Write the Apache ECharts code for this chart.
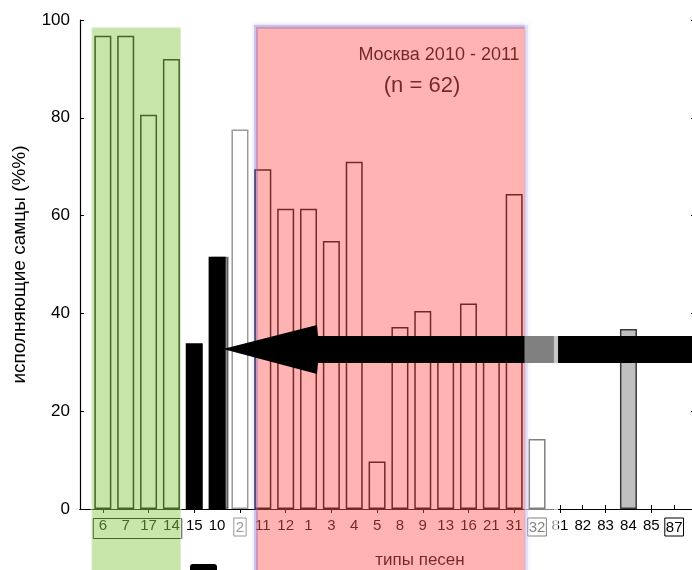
<!DOCTYPE html>
<html>
<head>
<meta charset="utf-8">
<script src="https://cdn.jsdelivr.net/npm/echarts@6/dist/echarts.min.js"></script>
<style>
  html, body { margin: 0; padding: 0; background: #fff; }
  #chart { width: 692px; height: 570px; }
</style>
</head>
<body>
<div id="chart"></div>
<script>
// Song types along the x axis and the share of males singing each type (%)
const categories = ['6', '7', '17', '14', '15', '10', '2', '11', '12', '1', '3', '4', '5',
                    '8', '9', '13', '16', '21', '31', '32', '81', '82', '83', '84', '85', '87'];
const percentMales = [96.8, 96.8, 80.6, 92.0, 33.9, 51.6, 77.6, 69.5, 61.4, 61.4, 54.8, 71.0, 9.7,
                      37.2, 40.5, 33.0, 42.0, 33.0, 64.4, 14.3, 0, 0, 0, 36.8, 0, 0];
const yTicks = [0, 20, 40, 60, 80, 100];
const yAxisTitle = 'исполняющие самцы (%%)';
const xAxisTitle = 'типы песен';
const panelTitle = 'Москва 2010 - 2011';
const panelCount = '(n = 62)';

const FONT = "'Liberation Sans', Arial, sans-serif";

// Bar appearance by song type
const solidBlack = new Set(['15', '10']);
const solidGrey = new Set(['84']);
const faintOutline = new Set(['2']);

function barStyle(name, v) {
  const base = { color: '#fff', borderColor: '#000', borderWidth: 1.5 };
  if (solidBlack.has(name)) Object.assign(base, { color: '#000' });
  if (solidGrey.has(name)) Object.assign(base, { color: '#c0c0c0', borderColor: '#3a3a3a' });
  if (faintOutline.has(name)) Object.assign(base, { borderColor: '#9a9a9a' });
  if (name === '10') Object.assign(base, { shadowColor: 'rgba(0,0,0,0.45)', shadowOffsetX: 3, shadowBlur: 0 });
  if (v === 0) Object.assign(base, { borderWidth: 0, color: 'rgba(0,0,0,0)' });
  return base;
}

const barData = percentMales.map((v, i) => ({
  value: [i + 1, v],
  itemStyle: barStyle(categories[i], v)
}));

const xMax = categories.length + 1;
const yStep = yTicks[1] - yTicks[0];

const chart = echarts.init(document.getElementById('chart'), null, { renderer: 'canvas' });

chart.setOption({
  animation: false,
  backgroundColor: '#fff',
  textStyle: { fontFamily: FONT },
  grid: { left: 80, top: 20, width: 617, height: 489, containLabel: false, outerBoundsMode: 'none' },
  xAxis: [
    {
      type: 'value',
      min: 0,
      max: xMax,
      interval: 1,
      axisLine: { show: true, lineStyle: { color: '#000', width: 1.2 } },
      axisTick: { show: true, inside: true, length: 4, lineStyle: { color: '#000' } },
      splitLine: { show: false },
      axisLabel: {
        margin: 9,
        fontSize: 15,
        fontFamily: FONT,
        color: '#000',
        showMinLabel: true,
        showMaxLabel: true,
        formatter: (v) => {
          const name = categories[Math.round(v) - 1];
          if (name === undefined) return '';
          if (faintOutline.has(name)) return '{faint|' + name + '}';
          if (name === '32' || name === '87') return '{boxed|' + name + '}';
          return name;
        },
        rich: {
          faint: { color: '#999', borderColor: '#999', borderWidth: 1, padding: [2, 2, 1, 2], fontSize: 15, fontFamily: FONT },
          boxed: { color: '#000', borderColor: '#000', borderWidth: 1, padding: [2, 1, 1, 1], fontSize: 15, fontFamily: FONT }
        }
      }
    },
    {
      type: 'category',
      position: 'top',
      boundaryGap: false,
      data: Array.from({ length: xMax + 1 }, (_, i) => String(i)),
      axisLine: { show: true, lineStyle: { color: '#000', width: 1.2 } },
      axisTick: { show: true, inside: true, length: 4, interval: (idx) => idx % 2 === 1, lineStyle: { color: '#000' } },
      axisLabel: { show: false },
      splitLine: { show: false }
    }
  ],
  yAxis: [
    {
      type: 'value',
      min: yTicks[0],
      max: yTicks[yTicks.length - 1],
      interval: yStep,
      position: 'left',
      name: yAxisTitle,
      nameLocation: 'middle',
      nameGap: 51,
      nameRotate: 90,
      nameTextStyle: { fontSize: 19, color: '#000', fontFamily: FONT },
      axisLine: { show: true, lineStyle: { color: '#000', width: 1.2 } },
      axisTick: { show: true, inside: true, length: 4, lineStyle: { color: '#000' } },
      axisLabel: { fontSize: 17, color: '#000', margin: 10, fontFamily: FONT },
      splitLine: { show: false }
    },
    {
      type: 'value',
      min: yTicks[0],
      max: yTicks[yTicks.length - 1],
      interval: yStep,
      position: 'right',
      axisLine: { show: true, lineStyle: { color: '#000' } },
      axisTick: { show: true, inside: true, length: 6, lineStyle: { color: '#000' } },
      axisLabel: { show: false },
      splitLine: { show: false }
    }
  ],
  series: [
    {
      type: 'bar',
      xAxisIndex: 0,
      yAxisIndex: 0,
      barWidth: 17,
      data: barData,
      z: 3
    }
  ]
});

// Shaded song-type groups, panel captions and the pointer arrow
const px = (x, y) => chart.convertToPixel({ xAxisIndex: 0, yAxisIndex: 0 }, [x, y]);
const H = 570;

const gL = px(0.5, 98.5), gR = px(4.42, 0);
const pL = px(7.7, 98.6), pR = px(19.52, 0);
const wA = px(19.45, 0), wB = px(20.72, 0), wC = px(20.92, 0);
const boxL = px(0.58, 0), boxR = px(4.45, 0);
const origin = px(0, 0);

chart.setOption({
  graphic: [
    // box around the first four labels
    {
      type: 'rect', z: 60, silent: true,
      shape: { x: boxL[0], y: origin[1] + 9.5, width: boxR[0] - boxL[0], height: 20 },
      style: { fill: 'none', stroke: '#000', lineWidth: 1 }
    },
    // captions
    {
      type: 'text', z: 60, silent: true,
      style: { text: panelTitle, x: 439, y: 55, align: 'center', verticalAlign: 'middle',
               font: '18px ' + FONT, fill: '#000' }
    },
    {
      type: 'text', z: 60, silent: true,
      style: { text: panelCount, x: 422, y: 86, align: 'center', verticalAlign: 'middle',
               font: '22px ' + FONT, fill: '#000' }
    },
    {
      type: 'text', z: 60, silent: true,
      style: { text: xAxisTitle, x: 420, y: 560, align: 'center', verticalAlign: 'middle',
               font: '17px ' + FONT, fill: '#000' }
    },
    // green group
    {
      type: 'rect', z: 100, silent: true,
      shape: { x: gL[0], y: gL[1], width: gR[0] - gL[0], height: H + 10 - gL[1] },
      style: { fill: 'rgba(143,204,82,0.49)', stroke: 'rgba(255,255,255,0.35)', lineWidth: 2 }
    },
    // pink group
    {
      type: 'rect', z: 100, silent: true,
      shape: { x: pL[0], y: pL[1], width: pR[0] - pL[0], height: H + 10 - pL[1] },
      style: { fill: 'rgba(255,88,88,0.455)', stroke: 'rgba(120,110,205,0.35)', lineWidth: 4 }
    },
    {
      type: 'rect', z: 99, silent: true,
      shape: { x: pL[0] - 1, y: pL[1] - 1, width: pR[0] - pL[0] + 2, height: H + 12 - pL[1] },
      style: { fill: 'none', stroke: 'rgba(170,170,230,0.12)', lineWidth: 7 }
    },
    // arrow
    {
      type: 'polygon', z: 110, silent: true,
      shape: { points: [[223, 349], [317, 325], [318, 336], [700, 336], [700, 363], [318, 363], [317, 374]] },
      style: { fill: '#000' }
    },
    // small dark tab at the bottom
    {
      type: 'rect', z: 110, silent: true,
      shape: { x: 190, y: 564, width: 27, height: 12, r: 3 },
      style: { fill: '#000' }
    },
    // faded strip over type 32
    {
      type: 'rect', z: 120, silent: true,
      shape: { x: wA[0], y: 21, width: wB[0] - wA[0], height: H - 21 },
      style: { fill: 'rgba(255,255,255,0.5)' }
    },
    {
      type: 'rect', z: 120, silent: true,
      shape: { x: wB[0], y: 21, width: wC[0] - wB[0], height: H - 21 },
      style: { fill: 'rgba(255,255,255,0.78)' }
    }
  ]
});
</script>
</body>
</html>
